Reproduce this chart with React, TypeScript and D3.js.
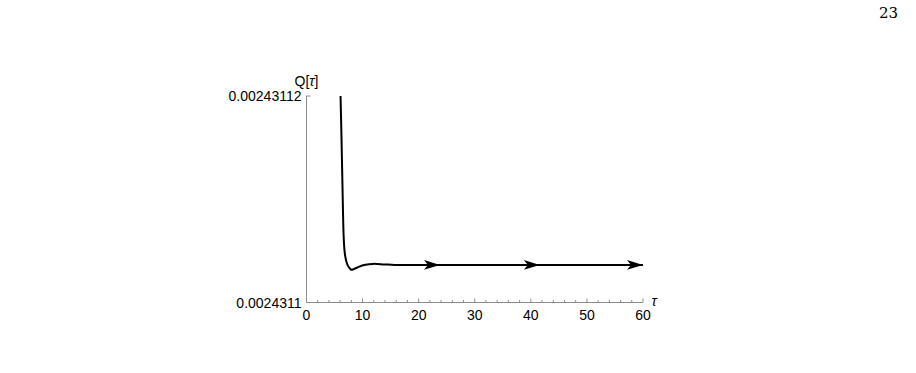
import React from "react";
import * as d3 from "d3";

const tau = [6.07, 6.25, 6.43, 6.61, 6.75, 6.9, 7.1, 7.35, 7.65, 7.98, 8.5, 9.3, 10.5, 11.8, 13.9, 15.7, 20, 30, 40, 50, 60];
const qValues = [
  0.00243112, 0.0024311157, 0.0024311109, 0.0024311066, 0.0024311052, 0.0024311045,
  0.002431104, 0.0024311036, 0.00243110335, 0.00243110317, 0.00243110325,
  0.00243110345, 0.00243110365, 0.00243110374, 0.00243110369, 0.00243110364,
  0.00243110364, 0.00243110364, 0.00243110364, 0.00243110364, 0.00243110364,
];
const arrowTau = [23.8, 41.6, 60];
const xTicks = [0, 10, 20, 30, 40, 50, 60];
const xMinorTicks = d3.range(0, 61, 2);
const yTickLabels = ["0.0024311", "0.00243112"];
const yTickValues = [0.0024311, 0.00243112];

const W = 916;
const H = 373;
const FONT = "'Liberation Sans', Arial, sans-serif";

export default function App() {
  const x = d3.scaleLinear().domain([0, 60]).range([306.5, 643]);
  const y = d3.scaleLinear().domain([0.0024311, 0.00243112]).range([302.5, 96]);
  const line = d3
    .line<number>()
    .x((_, i) => x(tau[i]))
    .y((d) => y(d))
    .curve(d3.curveCatmullRom.alpha(0.5));
  const path = line(qValues) || "";
  const axisColor = "#8c8c8c";
  const arrowY = (t: number) => {
    const idx = d3.bisectLeft(tau, t);
    const i = Math.min(Math.max(idx, 1), tau.length - 1);
    const t0 = tau[i - 1], t1 = tau[i];
    const f = (t - t0) / (t1 - t0);
    return y(qValues[i - 1] + f * (qValues[i] - qValues[i - 1]));
  };
  return (
    <svg width={W} height={H} style={{ position: "absolute", left: 0, top: 0, background: "#fff" }}>
      <text x={879} y={18} fontFamily="'DejaVu Serif', 'Liberation Serif', serif" fontSize={15} fill="#000">
        23
      </text>
      {/* axes */}
      <line x1={x(0)} x2={x(60)} y1={y(0.0024311)} y2={y(0.0024311)} stroke={axisColor} strokeWidth={1} />
      <line x1={x(0)} x2={x(0)} y1={y(0.0024311)} y2={y(0.00243112)} stroke={axisColor} strokeWidth={1} />
      {xMinorTicks.map((t) => (
        <line
          key={"m" + t}
          x1={x(t)}
          x2={x(t)}
          y1={y(0.0024311)}
          y2={y(0.0024311) - (t % 10 === 0 ? 4 : 2.5)}
          stroke={axisColor}
          strokeWidth={1}
        />
      ))}
      {yTickValues.map((v) => (
        <line key={"yt" + v} x1={x(0)} x2={x(0) + 4} y1={y(v)} y2={y(v)} stroke={axisColor} strokeWidth={1} />
      ))}
      {xTicks.map((t) => (
        <text key={"xl" + t} x={x(t)} y={320} textAnchor="middle" fontFamily={FONT} fontSize={14} fill="#000">
          {t}
        </text>
      ))}
      {yTickValues.map((v, i) => (
        <text key={"yl" + v} x={x(0) - 5} y={y(v) + 5} textAnchor="end" fontFamily={FONT} fontSize={14} fill="#000">
          {yTickLabels[i]}
        </text>
      ))}
      <text x={x(0)} y={86} textAnchor="middle" fontFamily={FONT} fontSize={14} fill="#000">
        Q[<tspan fontStyle="italic">τ</tspan>]
      </text>
      <text x={654} y={306} textAnchor="middle" fontFamily={FONT} fontStyle="italic" fontSize={14} fill="#000">
        τ
      </text>
      {/* curve */}
      <path d={path} fill="none" stroke="#000" strokeWidth={2} />
      {arrowTau.map((t) => {
        const tx = x(t);
        const ty = arrowY(t);
        return (
          <path
            key={"a" + t}
            d={`M${tx},${ty} L${tx - 16},${ty - 4.8} L${tx - 12},${ty} L${tx - 16},${ty + 4.8} Z`}
            fill="#000"
          />
        );
      })}
    </svg>
  );
}
